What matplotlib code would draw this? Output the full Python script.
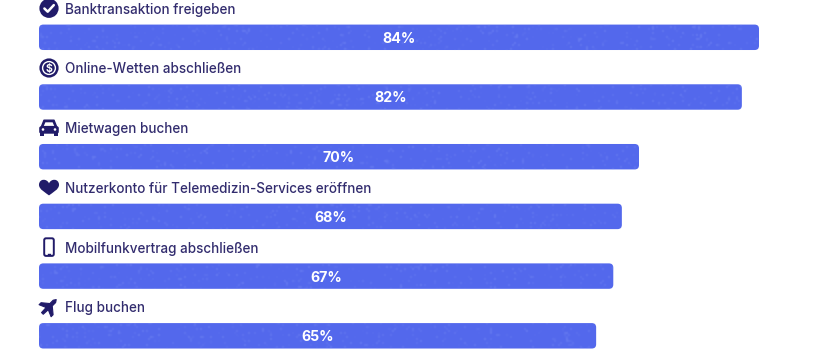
import numpy as np
import matplotlib
matplotlib.use("Agg")
import matplotlib.pyplot as plt
from matplotlib.patches import Circle, FancyBboxPatch, PathPatch, Polygon
from matplotlib.path import Path
from matplotlib.transforms import Affine2D

labels = ["Banktransaktion freigeben", "Online-Wetten abschließen", "Mietwagen buchen",
          "Nutzerkonto für Telemedizin-Services eröffnen", "Mobilfunkvertrag abschließen", "Flug buchen"]
values = [84, 82, 70, 68, 67, 65]
icons = ["check", "dollar", "car", "heart", "phone", "plane"]

bar_color = "#5368EC"
text_color = "#322C6E"
icon_color = "#211B69"

plt.rcParams["font.family"] = ["Inter", "DejaVu Sans"]

fig = plt.figure(figsize=(8.2, 3.6), dpi=100)
ax = fig.add_axes([0, 0, 1, 1])
# 8.571 px per percent, 59.7 px per row, first row centred at y=37.3
px_x = 720 / 84
px_y = 59.7
ax.set_xlim(-39 / px_x, 781 / px_x)
ax.set_ylim((360 - 37.3) / px_y, -37.3 / px_y)
ax.axis("off")

# speckle on the bars, decoration only
rng = np.random.default_rng(3)
speck = np.zeros((180, 410, 4))
speck[..., :3] = (0.55, 0.63, 0.98)
speck[..., 3] = np.where(rng.random((180, 410)) > 0.9, rng.random((180, 410)) * 0.3, 0)


def draw_icon(name, tr):
    if name == "check":
        ax.add_patch(Circle((0, 0), 9.6, fc=icon_color, ec="none", transform=tr))
        ax.plot([-4.6, -1.3, 4.8], [0.2, 3.4, -3.2], color="white", lw=1.8, transform=tr,
                solid_capstyle="round", solid_joinstyle="round")
    elif name == "dollar":
        ax.add_patch(Circle((0, 0), 9.6, fc=icon_color, ec="none", transform=tr))
        ax.add_patch(Circle((0, 0), 6.4, fc="none", ec="white", lw=1.0, transform=tr))
        ax.text(0, 0, "$", color="white", fontsize=7.5, fontweight="bold", ha="center",
                va="center_baseline", transform=tr)
    elif name == "car":
        body = FancyBboxPatch((-9.8, -1.5), 19.6, 7.5, boxstyle="round,pad=0,rounding_size=2",
                              fc=icon_color, ec="none", transform=tr)
        ax.add_patch(body)
        ax.add_patch(Polygon([(-7.6, -1), (-5, -7.5), (5, -7.5), (7.6, -1)], closed=True, fc=icon_color,
                             ec=icon_color, lw=1, joinstyle="round", transform=tr))
        ax.add_patch(Polygon([(-5.2, -1.8), (-3.6, -5.4), (3.6, -5.4), (5.2, -1.8)], closed=True,
                             fc="white", ec="none", transform=tr))
        ax.add_patch(Polygon([(-9, 5), (-5.4, 5), (-5.4, 8.5), (-9, 8.5)], closed=True, fc=icon_color,
                             ec="none", transform=tr))
        ax.add_patch(Polygon([(9, 5), (5.4, 5), (5.4, 8.5), (9, 8.5)], closed=True, fc=icon_color,
                             ec="none", transform=tr))
        ax.add_patch(Circle((-6, 1.8), 1.3, fc="white", ec="none", transform=tr))
        ax.add_patch(Circle((6, 1.8), 1.3, fc="white", ec="none", transform=tr))
    elif name == "heart":
        verts = [(0, 8), (-3, 5.5), (-10.5, 2), (-10, -3), (-9.5, -9), (-2, -9), (0, -4),
                 (2, -9), (9.5, -9), (10, -3), (10.5, 2), (3, 5.5), (0, 8)]
        codes = [Path.MOVETO] + [Path.CURVE4] * 12
        ax.add_patch(PathPatch(Path(verts, codes), fc=icon_color, ec="none", transform=tr))
    elif name == "phone":
        ax.add_patch(FancyBboxPatch((-4.8, -8.8), 9.6, 17.6, boxstyle="round,pad=0,rounding_size=1.8",
                                    fc="none", ec=icon_color, lw=1.4, transform=tr))
        ax.plot([-1.2, 1.2], [6.4, 6.4], color=icon_color, lw=1.0, transform=tr)
    elif name == "plane":
        pts = np.array([(-11, -1.4), (-3, -1.8), (-6.5, -10), (-3.2, -10), (3.4, -2), (9, -2),
                        (12, 0), (9, 2), (3.4, 2), (-3.2, 10), (-6.5, 10), (-3, 1.8), (-11, 1.4)]) * 0.85
        # the plane points up and to the right
        a = np.radians(-45)
        rot = np.array([[np.cos(a), -np.sin(a)], [np.sin(a), np.cos(a)]])
        ax.add_patch(Polygon(pts @ rot.T, closed=True, fc=icon_color, ec=icon_color, lw=0.8,
                             joinstyle="round", transform=tr))


for i, (label, value, icon) in enumerate(zip(labels, values, icons)):
    box = FancyBboxPatch((0, i - 0.213), value, 0.426, boxstyle="round,pad=0,rounding_size=0.5",
                         mutation_aspect=(px_x / px_y), fc=bar_color, ec="none")
    ax.add_patch(box)
    im = ax.imshow(speck, extent=ax.get_xlim() + ax.get_ylim(), aspect="auto", zorder=box.get_zorder() + 0.1,
                   interpolation="bilinear")
    im.set_clip_path(box)
    ax.text(value / 2, i, f"{value}%", color="white", fontsize=10.2, fontweight="bold",
            ha="center", va="center_baseline", zorder=5)
    ax.annotate(label, xy=(0, i), xytext=(26, 29), textcoords="offset pixels", color=text_color,
                fontsize=9.7, fontweight="medium", ha="left", va="center_baseline")
    base = ax.transData.transform((0, i))
    tr = Affine2D().scale(1, -1).translate(base[0] + 10, base[1] + 29)
    draw_icon(icon, tr)

ax.set_xlim(-39 / px_x, 781 / px_x)
ax.set_ylim((360 - 37.3) / px_y, -37.3 / px_y)
fig.savefig("out.png", dpi=100, facecolor="white")
